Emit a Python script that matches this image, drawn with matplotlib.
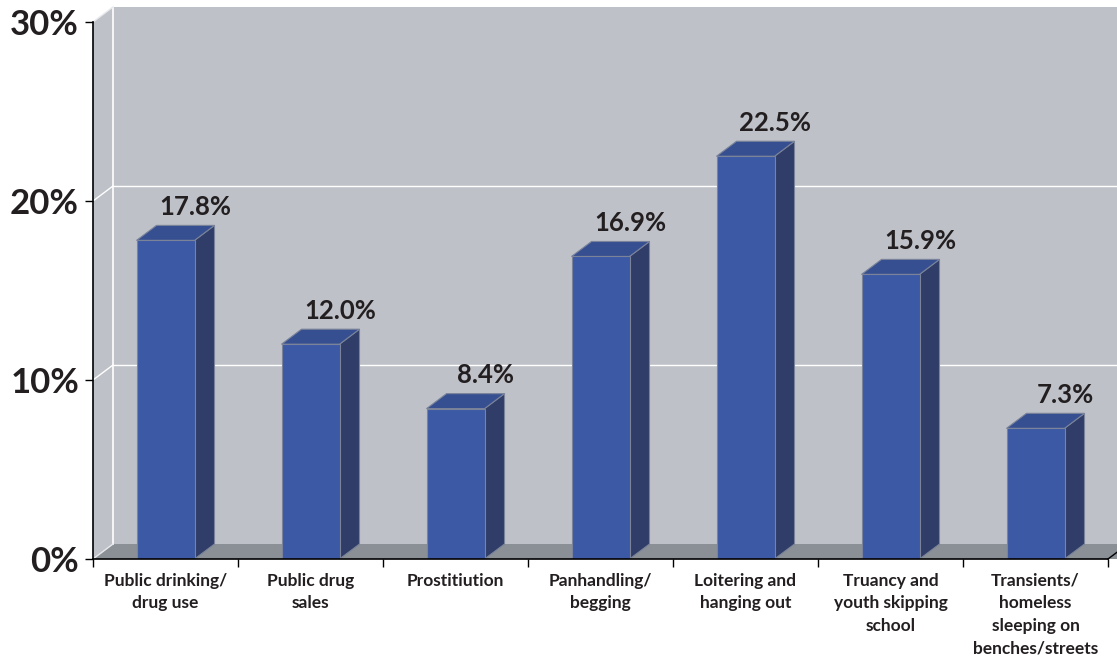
import matplotlib.pyplot as plt
from matplotlib.patches import Polygon, Rectangle

# data
categories = ["Public drinking/\ndrug use", "Public drug\nsales", "Prostitiution",
              "Panhandling/\nbegging", "Loitering and\nhanging out",
              "Truancy and\nyouth skipping\nschool",
              "Transients/\nhomeless\nsleeping on\nbenches/streets"]
values = [17.8, 12.0, 8.4, 16.9, 22.5, 15.9, 7.3]
yticks = [0, 10, 20, 30]
ytick_labels = ["0%", "10%", "20%", "30%"]

plt.rcParams['font.family'] = ['Lato', 'DejaVu Sans']
text_color = "#231f20"
wall_color = "#bec1c8"
floor_color = "#8a9096"
front_color = "#3c59a5"
top_color = "#364f90"
side_color = "#2f3d68"
edge_color = "#7a8399"

W, H = 1117, 658
fig = plt.figure(figsize=(W / 100, H / 100), dpi=100)
ax = fig.add_axes([93 / W, (H - 559) / H, (1108 - 93) / W, (559 - 22) / H])
n = len(categories)
ax.set_xlim(-0.5, n - 0.5)
ax.set_ylim(0, 30)
ax.patch.set_visible(False)

# 3d depth offsets in data units (~20px right, ~15px up)
dx = 20 / ((1108 - 93) / n)
dy = 15 / ((559 - 22) / 30)
x0, x1 = -0.5, n - 0.5

# back wall, side wall, floor
ax.add_patch(Polygon([(x0 + dx, dy), (x1 + dx + 1, dy), (x1 + dx + 1, 30 + dy), (x0 + dx, 30 + dy)],
                     closed=True, facecolor=wall_color, edgecolor='none', zorder=0, clip_on=False))
ax.add_patch(Polygon([(x0, 0), (x0 + dx, dy), (x0 + dx, 30 + dy), (x0, 30)],
                     closed=True, facecolor=wall_color, edgecolor='none', zorder=0, clip_on=False))
ax.add_patch(Polygon([(x0, 0), (x1 + 1, 0), (x1 + 1 + dx, dy), (x0 + dx, dy)],
                     closed=True, facecolor=floor_color, edgecolor='none', zorder=1, clip_on=False))

# gridlines on the walls
for v in yticks[1:3]:
    ax.plot([x0 + dx, x1 + dx + 1], [v + dy, v + dy], color='white', lw=1, zorder=1, clip_on=False)
    ax.plot([x0, x0 + dx], [v, v + dy], color='white', lw=1, zorder=1, clip_on=False)
ax.plot([x0 + dx, x0 + dx], [dy, 30 + dy], color='white', lw=1.2, zorder=1, clip_on=False)
ax.plot([x0, x0 + dx], [0, dy], color='#e8e9ec', lw=1, zorder=1, clip_on=False)
ax.plot([x0, x0 + dx], [30, 30 + dy], color='#e8e9ec', lw=1, zorder=1, clip_on=False)
ax.plot([x1, x1 + dx], [0, dy], color='black', lw=1, zorder=6, clip_on=False)

# bars
hw = 0.2
for i, v in enumerate(values):
    ax.add_patch(Polygon([(i + hw, 0), (i + hw + dx, dy), (i + hw + dx, v + dy), (i + hw, v)],
                         closed=True, facecolor=side_color, edgecolor=edge_color, lw=0.8, zorder=3))
    ax.add_patch(Polygon([(i - hw, v), (i + hw, v), (i + hw + dx, v + dy), (i - hw + dx, v + dy)],
                         closed=True, facecolor=top_color, edgecolor=edge_color, lw=0.8, zorder=3))
    ax.add_patch(Rectangle((i - hw, 0), 2 * hw, v, facecolor=front_color,
                           edgecolor=edge_color, lw=0.8, zorder=4))
    ax.text(i + 1.5 * dx, v + dy + 0.35, f"{v:.1f}%", ha='center', va='bottom',
            fontsize=18.5, fontweight='bold', color=text_color, zorder=5)

# axes
for s in ['top', 'right']:
    ax.spines[s].set_visible(False)
for s in ['left', 'bottom']:
    ax.spines[s].set_color('black')
    ax.spines[s].set_linewidth(1.2)
    ax.spines[s].set_zorder(6)

ax.set_yticks(yticks)
ax.set_yticklabels(ytick_labels, fontsize=25, fontweight='bold', color=text_color)
ax.tick_params(axis='y', length=6, width=1, pad=4)

ax.set_xticks([i - 0.5 for i in range(n + 1)])
ax.set_xticklabels([])
ax.set_xticks(range(n), minor=True)
ax.set_xticklabels(categories, minor=True, fontsize=12.5, fontweight='bold',
                   color=text_color, linespacing=1.5)
ax.tick_params(axis='x', which='major', length=6, width=1)
ax.tick_params(axis='x', which='minor', length=0, pad=10)

fig.savefig("out.png", dpi=100, facecolor='white')
